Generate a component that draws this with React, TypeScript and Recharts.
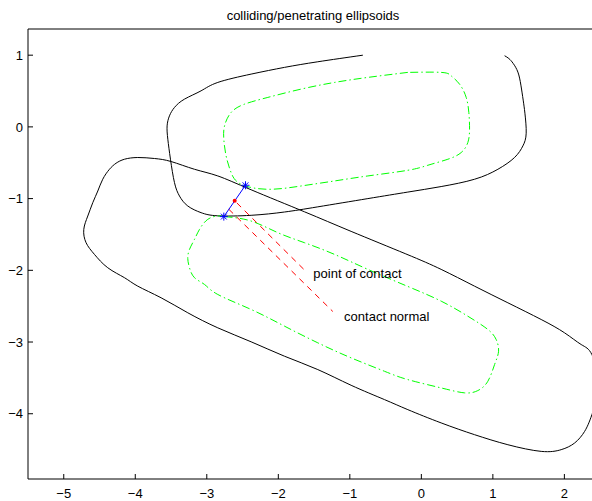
import { ComposedChart, Line, Scatter, XAxis, YAxis } from "recharts";

const FONT = '"Liberation Sans", Arial, Helvetica, sans-serif';

type Pt = { x: number; y: number };

// upper ellipsoid outline (black), open at y = 1
const upperOutline: Pt[] = [
  { x: -0.818, y: 1.0 }, { x: -1.448, y: 0.908 }, { x: -1.913, y: 0.83 },
  { x: -2.38, y: 0.736 }, { x: -2.846, y: 0.62 }, { x: -3.08, y: 0.503 },
  { x: -3.312, y: 0.387 }, { x: -3.452, y: 0.271 }, { x: -3.522, y: 0.154 },
  { x: -3.555, y: 0.014 }, { x: -3.545, y: -0.172 }, { x: -3.508, y: -0.451 },
  { x: -3.452, y: -0.777 }, { x: -3.382, y: -0.964 }, { x: -3.266, y: -1.103 },
  { x: -3.08, y: -1.196 }, { x: -2.846, y: -1.24 }, { x: -2.38, y: -1.233 },
  { x: -1.913, y: -1.187 }, { x: -1.448, y: -1.115 }, { x: -0.748, y: -1.0 },
  { x: -0.189, y: -0.909 }, { x: 0.277, y: -0.832 }, { x: 0.744, y: -0.73 },
  { x: 1.07, y: -0.591 }, { x: 1.303, y: -0.427 }, { x: 1.42, y: -0.265 },
  { x: 1.466, y: -0.088 }, { x: 1.448, y: 0.191 }, { x: 1.424, y: 0.373 },
  { x: 1.392, y: 0.582 }, { x: 1.35, y: 0.764 }, { x: 1.284, y: 0.885 },
  { x: 1.224, y: 0.953 }, { x: 1.164, y: 0.992 },
];

// lower ellipsoid outline (black), closed
const lowerOutline: Pt[] = [
  { x: 2.52, y: -3.608 }, { x: 2.385, y: -3.175 }, { x: 2.235, y: -3.035 },
  { x: 2.003, y: -2.872 }, { x: 1.676, y: -2.686 }, { x: 1.21, y: -2.453 },
  { x: 0.744, y: -2.221 }, { x: 0.277, y: -1.987 }, { x: -0.217, y: -1.771 },
  { x: -0.982, y: -1.457 }, { x: -1.634, y: -1.184 }, { x: -2.38, y: -0.877 },
  { x: -2.846, y: -0.684 }, { x: -3.172, y: -0.591 }, { x: -3.499, y: -0.483 },
  { x: -3.731, y: -0.441 }, { x: -3.965, y: -0.427 }, { x: -4.151, y: -0.451 },
  { x: -4.269, y: -0.507 }, { x: -4.361, y: -0.591 }, { x: -4.455, y: -0.73 },
  { x: -4.524, y: -0.894 }, { x: -4.594, y: -1.056 }, { x: -4.664, y: -1.243 },
  { x: -4.72, y: -1.429 }, { x: -4.688, y: -1.615 }, { x: -4.571, y: -1.778 },
  { x: -4.385, y: -1.964 }, { x: -4.151, y: -2.103 }, { x: -3.965, y: -2.221 },
  { x: -3.639, y: -2.383 }, { x: -3.266, y: -2.592 }, { x: -2.846, y: -2.802 },
  { x: -2.38, y: -2.997 }, { x: -1.913, y: -3.198 }, { x: -1.448, y: -3.384 },
  { x: -0.982, y: -3.603 }, { x: -0.515, y: -3.803 }, { x: -0.189, y: -3.943 },
  { x: 0.277, y: -4.128 }, { x: 0.744, y: -4.292 }, { x: 1.21, y: -4.432 },
  { x: 1.676, y: -4.525 }, { x: 1.955, y: -4.501 }, { x: 2.143, y: -4.408 },
  { x: 2.283, y: -4.246 }, { x: 2.385, y: -4.013 }, { x: 2.52, y: -3.608 },
];

// upper ellipsoid core (green dash-dot)
const upperCore: Pt[] = [
  { x: -0.189, y: 0.76 }, { x: -0.748, y: 0.69 }, { x: -1.214, y: 0.62 },
  { x: -1.681, y: 0.527 }, { x: -2.147, y: 0.411 }, { x: -2.473, y: 0.317 },
  { x: -2.66, y: 0.201 }, { x: -2.752, y: 0.014 }, { x: -2.762, y: -0.172 },
  { x: -2.73, y: -0.405 }, { x: -2.66, y: -0.637 }, { x: -2.52, y: -0.8 },
  { x: -2.147, y: -0.87 }, { x: -1.681, y: -0.824 }, { x: -1.214, y: -0.754 },
  { x: -0.748, y: -0.684 }, { x: -0.189, y: -0.605 }, { x: 0.091, y: -0.535 },
  { x: 0.371, y: -0.451 }, { x: 0.557, y: -0.358 }, { x: 0.65, y: -0.218 },
  { x: 0.674, y: -0.032 }, { x: 0.664, y: 0.201 }, { x: 0.627, y: 0.411 },
  { x: 0.534, y: 0.596 }, { x: 0.417, y: 0.712 }, { x: 0.277, y: 0.76 },
  { x: -0.189, y: 0.76 },
];

// lower ellipsoid core (green dash-dot)
const lowerCore: Pt[] = [
  { x: -2.752, y: -1.251 }, { x: -2.38, y: -1.313 }, { x: -2.007, y: -1.475 },
  { x: -1.634, y: -1.615 }, { x: -1.214, y: -1.778 }, { x: -0.748, y: -1.987 },
  { x: -0.189, y: -2.225 }, { x: 0.277, y: -2.43 }, { x: 0.65, y: -2.64 },
  { x: 0.93, y: -2.825 }, { x: 1.046, y: -2.965 }, { x: 1.08, y: -3.128 },
  { x: 1.024, y: -3.314 }, { x: 0.93, y: -3.547 }, { x: 0.79, y: -3.677 },
  { x: 0.604, y: -3.709 }, { x: 0.277, y: -3.64 }, { x: -0.189, y: -3.524 },
  { x: -0.515, y: -3.408 }, { x: -0.982, y: -3.221 }, { x: -1.448, y: -3.011 },
  { x: -1.913, y: -2.779 }, { x: -2.38, y: -2.546 }, { x: -2.846, y: -2.337 },
  { x: -3.032, y: -2.197 }, { x: -3.172, y: -2.103 }, { x: -3.242, y: -1.964 },
  { x: -3.266, y: -1.834 }, { x: -3.242, y: -1.708 }, { x: -3.172, y: -1.568 },
  { x: -3.102, y: -1.429 }, { x: -2.986, y: -1.289 }, { x: -2.846, y: -1.243 },
  { x: -2.752, y: -1.251 },
];

const contactPoints: Pt[] = [
  { x: -2.762, y: -1.251 },
  { x: -2.459, y: -0.814 },
];
const contactMid: Pt[] = [{ x: -2.61, y: -1.03 }];

const pointLine: Pt[] = [{ x: -2.58, y: -1.06 }, { x: -1.64, y: -1.99 }];
const normalLine: Pt[] = [{ x: -2.692, y: -1.149 }, { x: -1.238, y: -2.574 }];

const notes = [
  { x: -1.51, y: -2.04, text: "point of contact" },
  { x: -1.08, y: -2.64, text: "contact normal" },
];

const xTicks = [-5, -4, -3, -2, -1, 0, 1, 2];
const yTicks = [-4, -3, -2, -1, 0, 1];

const fmt = (v: number) => String(v).replace("-", "\u2212");

const Asterisk = (p: any) => {
  const { cx, cy } = p;
  const r = 4;
  const d = 2.9;
  return (
    <g stroke="#0000ff" strokeWidth={1}>
      <line x1={cx - r} y1={cy} x2={cx + r} y2={cy} />
      <line x1={cx} y1={cy - r} x2={cx} y2={cy + r} />
      <line x1={cx - d} y1={cy - d} x2={cx + d} y2={cy + d} />
      <line x1={cx - d} y1={cy + d} x2={cx + d} y2={cy - d} />
    </g>
  );
};

const RedDot = (p: any) => <circle cx={p.cx} cy={p.cy} r={2} fill="#ff0000" />;

const Note = (p: any) => (
  <text
    x={p.cx}
    y={p.cy}
    dominantBaseline="central"
    fontSize={13}
    fontFamily={FONT}
    fill="#000"
  >
    {p.payload.text}
  </text>
);

const tickStyle = { fontSize: 13, fill: "#000", fontFamily: FONT };

export default function App() {
  return (
    <div
      style={{
        position: "fixed",
        left: 0,
        top: 0,
        width: 592,
        height: 501,
        overflow: "hidden",
        background: "#fff",
        fontFamily: FONT,
      }}
    >
      <div
        style={{
          position: "absolute",
          left: 28,
          top: 8,
          width: 570,
          textAlign: "center",
          fontSize: 13,
          lineHeight: "16px",
          color: "#000",
        }}
      >
        colliding/penetrating ellipsoids
      </div>
      <ComposedChart
        width={604}
        height={501}
        margin={{ top: 0, right: 6, bottom: 0, left: 0 }}
      >
        <XAxis
          type="number"
          dataKey="x"
          domain={[-5.5, 2.47]}
          allowDataOverflow
          ticks={xTicks}
          tickFormatter={fmt}
          tickSize={-5}
          tickMargin={15}
          height={22}
          axisLine={{ stroke: "#000" }}
          tickLine={{ stroke: "#000" }}
          tick={tickStyle}
        />
        <XAxis
          xAxisId="top"
          orientation="top"
          type="number"
          dataKey="x"
          domain={[-5.5, 2.47]}
          allowDataOverflow
          ticks={xTicks}
          tickSize={-5}
          height={29}
          axisLine={{ stroke: "#000" }}
          tickLine={{ stroke: "#000" }}
          tick={false}
        />
        <YAxis
          type="number"
          dataKey="y"
          domain={[-4.91, 1.365]}
          allowDataOverflow
          ticks={yTicks}
          tickFormatter={fmt}
          tickSize={-5}
          tickMargin={10}
          width={28}
          axisLine={{ stroke: "#000" }}
          tickLine={{ stroke: "#000" }}
          tick={tickStyle}
        />
        <Line data={upperOutline} dataKey="y" type="natural" stroke="#000" strokeWidth={1} dot={false} activeDot={false} isAnimationActive={false} />
        <Line data={lowerOutline} dataKey="y" type="natural" stroke="#000" strokeWidth={1} dot={false} activeDot={false} isAnimationActive={false} />
        <Line data={upperCore} dataKey="y" type="natural" stroke="#00ff00" strokeWidth={1} strokeDasharray="8 3 1.5 3" dot={false} activeDot={false} isAnimationActive={false} />
        <Line data={lowerCore} dataKey="y" type="natural" stroke="#00ff00" strokeWidth={1} strokeDasharray="8 3 1.5 3" dot={false} activeDot={false} isAnimationActive={false} />
        <Line data={pointLine} dataKey="y" type="linear" stroke="#ff0000" strokeWidth={1} strokeDasharray="6 5" dot={false} activeDot={false} isAnimationActive={false} />
        <Line data={normalLine} dataKey="y" type="linear" stroke="#ff0000" strokeWidth={1} strokeDasharray="6 5" dot={false} activeDot={false} isAnimationActive={false} />
        <Line data={contactPoints} dataKey="y" type="linear" stroke="#0000ff" strokeWidth={1} dot={false} activeDot={false} isAnimationActive={false} />
        <Scatter data={contactPoints} dataKey="y" shape={Asterisk} isAnimationActive={false} />
        <Scatter data={contactMid} dataKey="y" shape={RedDot} isAnimationActive={false} />
        <Scatter data={notes} dataKey="y" shape={Note} isAnimationActive={false} />
      </ComposedChart>
    </div>
  );
}
